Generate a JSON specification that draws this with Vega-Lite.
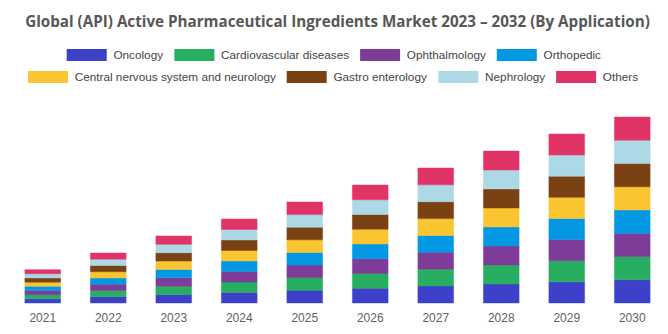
{
  "$schema": "https://vega.github.io/schema/vega-lite/v6.json",
  "width": 655,
  "height": 203,
  "autosize": {"type": "none"},
  "padding": {"left": 10, "top": 100, "right": 3, "bottom": 31},
  "background": "white",
  "config": {"view": {"stroke": null}},
  "title": {
    "text": "Global (API) Active Pharmaceutical Ingredients Market 2023 – 2032 (By Application)",
    "font": "Open Sans",
    "fontSize": 15.2,
    "fontWeight": "bold",
    "color": "#575757",
    "anchor": "middle",
    "baseline": "alphabetic",
    "offset": 10,
    "dy": 17
  },
  "data": {
    "values": [
      {"year": "2021", "application": "Oncology", "value": 4.17},
      {"year": "2021", "application": "Cardiovascular diseases", "value": 4.17},
      {"year": "2021", "application": "Ophthalmology", "value": 4.17},
      {"year": "2021", "application": "Orthopedic", "value": 4.17},
      {"year": "2021", "application": "Central nervous system and neurology", "value": 4.17},
      {"year": "2021", "application": "Gastro enterology", "value": 4.17},
      {"year": "2021", "application": "Nephrology", "value": 4.17},
      {"year": "2021", "application": "Others", "value": 4.17},
      {"year": "2022", "application": "Oncology", "value": 6.25},
      {"year": "2022", "application": "Cardiovascular diseases", "value": 6.25},
      {"year": "2022", "application": "Ophthalmology", "value": 6.25},
      {"year": "2022", "application": "Orthopedic", "value": 6.25},
      {"year": "2022", "application": "Central nervous system and neurology", "value": 6.25},
      {"year": "2022", "application": "Gastro enterology", "value": 6.25},
      {"year": "2022", "application": "Nephrology", "value": 6.25},
      {"year": "2022", "application": "Others", "value": 6.25},
      {"year": "2023", "application": "Oncology", "value": 8.38},
      {"year": "2023", "application": "Cardiovascular diseases", "value": 8.38},
      {"year": "2023", "application": "Ophthalmology", "value": 8.38},
      {"year": "2023", "application": "Orthopedic", "value": 8.38},
      {"year": "2023", "application": "Central nervous system and neurology", "value": 8.38},
      {"year": "2023", "application": "Gastro enterology", "value": 8.38},
      {"year": "2023", "application": "Nephrology", "value": 8.38},
      {"year": "2023", "application": "Others", "value": 8.38},
      {"year": "2024", "application": "Oncology", "value": 10.5},
      {"year": "2024", "application": "Cardiovascular diseases", "value": 10.5},
      {"year": "2024", "application": "Ophthalmology", "value": 10.5},
      {"year": "2024", "application": "Orthopedic", "value": 10.5},
      {"year": "2024", "application": "Central nervous system and neurology", "value": 10.5},
      {"year": "2024", "application": "Gastro enterology", "value": 10.5},
      {"year": "2024", "application": "Nephrology", "value": 10.5},
      {"year": "2024", "application": "Others", "value": 10.5},
      {"year": "2025", "application": "Oncology", "value": 12.63},
      {"year": "2025", "application": "Cardiovascular diseases", "value": 12.63},
      {"year": "2025", "application": "Ophthalmology", "value": 12.63},
      {"year": "2025", "application": "Orthopedic", "value": 12.63},
      {"year": "2025", "application": "Central nervous system and neurology", "value": 12.63},
      {"year": "2025", "application": "Gastro enterology", "value": 12.63},
      {"year": "2025", "application": "Nephrology", "value": 12.63},
      {"year": "2025", "application": "Others", "value": 12.63},
      {"year": "2026", "application": "Oncology", "value": 14.75},
      {"year": "2026", "application": "Cardiovascular diseases", "value": 14.75},
      {"year": "2026", "application": "Ophthalmology", "value": 14.75},
      {"year": "2026", "application": "Orthopedic", "value": 14.75},
      {"year": "2026", "application": "Central nervous system and neurology", "value": 14.75},
      {"year": "2026", "application": "Gastro enterology", "value": 14.75},
      {"year": "2026", "application": "Nephrology", "value": 14.75},
      {"year": "2026", "application": "Others", "value": 14.75},
      {"year": "2027", "application": "Oncology", "value": 16.88},
      {"year": "2027", "application": "Cardiovascular diseases", "value": 16.88},
      {"year": "2027", "application": "Ophthalmology", "value": 16.88},
      {"year": "2027", "application": "Orthopedic", "value": 16.88},
      {"year": "2027", "application": "Central nervous system and neurology", "value": 16.88},
      {"year": "2027", "application": "Gastro enterology", "value": 16.88},
      {"year": "2027", "application": "Nephrology", "value": 16.88},
      {"year": "2027", "application": "Others", "value": 16.88},
      {"year": "2028", "application": "Oncology", "value": 19.0},
      {"year": "2028", "application": "Cardiovascular diseases", "value": 19.0},
      {"year": "2028", "application": "Ophthalmology", "value": 19.0},
      {"year": "2028", "application": "Orthopedic", "value": 19.0},
      {"year": "2028", "application": "Central nervous system and neurology", "value": 19.0},
      {"year": "2028", "application": "Gastro enterology", "value": 19.0},
      {"year": "2028", "application": "Nephrology", "value": 19.0},
      {"year": "2028", "application": "Others", "value": 19.0},
      {"year": "2029", "application": "Oncology", "value": 21.13},
      {"year": "2029", "application": "Cardiovascular diseases", "value": 21.13},
      {"year": "2029", "application": "Ophthalmology", "value": 21.13},
      {"year": "2029", "application": "Orthopedic", "value": 21.13},
      {"year": "2029", "application": "Central nervous system and neurology", "value": 21.13},
      {"year": "2029", "application": "Gastro enterology", "value": 21.13},
      {"year": "2029", "application": "Nephrology", "value": 21.13},
      {"year": "2029", "application": "Others", "value": 21.13},
      {"year": "2030", "application": "Oncology", "value": 23.25},
      {"year": "2030", "application": "Cardiovascular diseases", "value": 23.25},
      {"year": "2030", "application": "Ophthalmology", "value": 23.25},
      {"year": "2030", "application": "Orthopedic", "value": 23.25},
      {"year": "2030", "application": "Central nervous system and neurology", "value": 23.25},
      {"year": "2030", "application": "Gastro enterology", "value": 23.25},
      {"year": "2030", "application": "Nephrology", "value": 23.25},
      {"year": "2030", "application": "Others", "value": 23.25}
    ]
  },
  "transform": [
    {"stack": "value", "groupby": ["year"], "as": ["v0", "v1"]}
  ],
  "encoding": {
    "x": {
      "field": "year",
      "type": "ordinal",
      "scale": {"paddingInner": 0.455, "paddingOuter": 0.2275},
      "axis": {
        "title": null,
        "labelAngle": 0,
        "ticks": false,
        "domain": false,
        "labelPadding": 9,
        "labelFont": "Liberation Sans",
        "labelFontSize": 12,
        "labelColor": "#5f5f5f"
      }
    },
    "y": {
      "field": "v0",
      "type": "quantitative",
      "scale": {"domain": [0, 203], "nice": false},
      "axis": null
    },
    "y2": {"field": "v1"}
  },
  "layer": [
    {
      "transform": [
        {"filter": {"field": "application", "oneOf": ["Oncology", "Cardiovascular diseases", "Ophthalmology", "Orthopedic"]}}
      ],
      "mark": {"type": "bar", "strokeWidth": 1, "strokeOpacity": 0.45},
      "encoding": {
        "color": {
          "field": "application",
          "type": "nominal",
          "scale": {
            "domain": ["Oncology", "Cardiovascular diseases", "Ophthalmology", "Orthopedic"],
            "range": ["#3d40c8", "#27ae60", "#7d3c98", "#0398e3"]
          },
          "legend": {
            "orient": "none",
            "legendX": 56.7,
            "legendY": -65,
            "direction": "horizontal",
            "gridAlign": "none",
            "title": null,
            "padding": 0,
            "symbolType": "M-1,-0.3L1,-0.3L1,0.3L-1,0.3Z",
            "symbolSize": 1600,
            "symbolStrokeWidth": 0,
            "labelOffset": 6.7,
            "columnPadding": 10.7,
            "labelFont": "Liberation Sans",
            "labelFontSize": 11.75,
            "labelColor": "#444444",
            "labelLimit": 400
          }
        },
        "stroke": {
          "field": "application",
          "type": "nominal",
          "scale": {
            "domain": ["Oncology", "Cardiovascular diseases", "Ophthalmology", "Orthopedic"],
            "range": ["#3d40c8", "#27ae60", "#7d3c98", "#0398e3"]
          },
          "legend": null
        }
      }
    },
    {
      "transform": [
        {"filter": {"field": "application", "oneOf": ["Central nervous system and neurology", "Gastro enterology", "Nephrology", "Others"]}}
      ],
      "mark": {"type": "bar", "strokeWidth": 1, "strokeOpacity": 0.45},
      "encoding": {
        "color": {
          "field": "application",
          "type": "nominal",
          "scale": {
            "domain": ["Central nervous system and neurology", "Gastro enterology", "Nephrology", "Others"],
            "range": ["#fbc531", "#7a4113", "#add8e6", "#e03366"]
          },
          "legend": {
            "orient": "none",
            "legendX": 18,
            "legendY": -43,
            "direction": "horizontal",
            "gridAlign": "none",
            "title": null,
            "padding": 0,
            "symbolType": "M-1,-0.3L1,-0.3L1,0.3L-1,0.3Z",
            "symbolSize": 1600,
            "symbolStrokeWidth": 0,
            "labelOffset": 6.7,
            "columnPadding": 10.7,
            "labelFont": "Liberation Sans",
            "labelFontSize": 11.75,
            "labelColor": "#444444",
            "labelLimit": 400
          }
        },
        "stroke": {
          "field": "application",
          "type": "nominal",
          "scale": {
            "domain": ["Central nervous system and neurology", "Gastro enterology", "Nephrology", "Others"],
            "range": ["#fbc531", "#7a4113", "#add8e6", "#e03366"]
          },
          "legend": null
        }
      }
    }
  ],
  "resolve": {
    "scale": {"color": "independent", "stroke": "independent"},
    "legend": {"color": "independent"}
  }
}
